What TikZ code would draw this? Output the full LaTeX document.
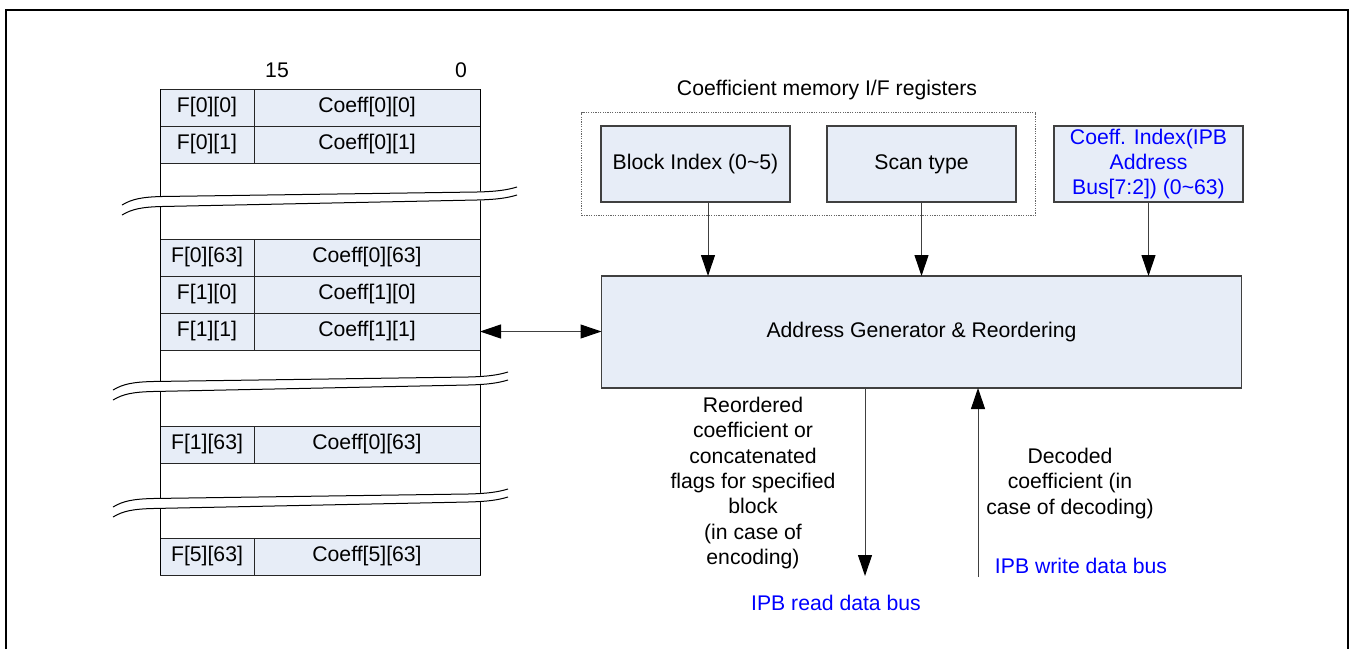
\documentclass[tikz,border=0pt]{standalone}
\usepackage{fontspec}
\setmainfont{Liberation Sans}
\usepackage{tikz}
\usetikzlibrary{arrows.meta,positioning,fit}
\usepackage{xcolor}
\definecolor{mycell}{RGB}{231,237,247}
\definecolor{myline}{RGB}{64,64,64}
\definecolor{mybus}{RGB}{0,0,255}
\tikzset{
  fcell/.style={rectangle,draw=black!85,fill=mycell,line width=0.5pt,outer sep=0pt,
    minimum width=47pt,minimum height=18.5pt,inner sep=0pt},
  ccell/.style={fcell,minimum width=113pt},
  reg/.style={rectangle,draw=myline,line width=0.7pt,fill=mycell,align=center,outer sep=0pt,
    minimum width=94.5pt,minimum height=38pt,inner sep=1pt},
  core/.style={reg,minimum width=320pt,minimum height=56pt},
  grp/.style={rectangle,draw=black!60,dash pattern=on 0.6pt off 0.6pt,inner sep=0pt},
  flow/.style={->,color=black!75,line width=0.5pt},
  biflow/.style={<->,color=black!75,line width=0.5pt},
  buslab/.style={text=mybus,align=center},
  flowlab/.style={align=center},
  brk/.style={black,line width=0.5pt},
}
\newcommand{\brkband}[2]{%
  \begin{scope}[shift={(#1,#2)}]
    \draw[white,line width=4.5pt] (0,5) .. controls (10,-1) and (20,-3) .. (40,-3.5)
      -- (355,-9) .. controls (375,-9.5) and (385,-11) .. (395,-14);
    \draw[brk] (0,0) .. controls (10,-6) and (20,-8) .. (40,-8.5)
      -- (355,-13) .. controls (375,-13.5) and (385,-15) .. (395,-18);
    \draw[brk] (0,10) .. controls (10,4) and (20,2) .. (40,1.5)
      -- (355,-5) .. controls (375,-5.5) and (385,-7) .. (395,-10);
  \end{scope}}

\begin{document}
\begin{tikzpicture}[x=0.5pt,y=-0.5pt,node distance=0pt,
    every node/.style={font=\fontsize{10.6}{12.65}\selectfont},
    >={Triangle[length=10.5pt,width=7pt,color=black]}]
  \useasboundingbox (0,0) rectangle (1349,649);
  \draw[line width=1pt] (6,649) -- (6,10) -- (1348,10) -- (1348,649);

  \node at (277,70) {15};
  \node at (461,70) {0};
  \node[fcell] (f00) at (207,107.5) {F[0][0]};
  \node[ccell,right=of f00] (c00) {Coeff[0][0]};
  \node[fcell,below=of f00] (f01) {F[0][1]};
  \node[ccell,right=of f01] (c01) {Coeff[0][1]};
  \node[fcell,below=38pt of f01] (f063) {F[0][63]};
  \node[ccell,right=of f063] (c063) {Coeff[0][63]};
  \node[fcell,below=of f063] (f10) {F[1][0]};
  \node[ccell,right=of f10] (c10) {Coeff[1][0]};
  \node[fcell,below=of f10] (f11) {F[1][1]};
  \node[ccell,right=of f11] (c11) {Coeff[1][1]};
  \node[fcell,below=38pt of f11] (f163) {F[1][63]};
  \node[ccell,right=of f163] (c163) {Coeff[0][63]};
  \node[fcell,below=37.5pt of f163] (f563) {F[5][63]};
  \node[ccell,right=of f563] (c563) {Coeff[5][63]};
  \draw[brk] (f00.north west) -- (f563.south west);
  \draw[brk] (c00.north east) -- (c563.south east);
  \brkband{122}{205}
  \brkband{113}{390}
  \brkband{113}{507}

  \node[reg] (blk) at (695.5,164) {Block Index (0\textasciitilde5)};
  \node[reg,right=18.5pt of blk] (scan) {Scan type};
  \node[reg,right=19pt of scan,text=mybus] (cidx) {Coeff. Index(IPB\\Address\\Bus[7:2]) (0\textasciitilde63)};
  \node[grp,fit=(blk)(scan),inner xsep=9.75pt,inner ysep=6.75pt] (regs) {};
  \node at (827,90) {Coefficient memory I/F registers};
  \node[core,below=37pt of scan] (agen) {Address Generator \& Reordering};

  \coordinate (bix) at (708,0);
  \coordinate (rdend) at (865,576);
  \coordinate (wrbeg) at (978,577);
  \draw[flow] (blk.south -| bix) -- (agen.north -| bix);
  \draw[flow] (scan.south) -- (scan.south |- agen.north);
  \draw[flow] (cidx.south) -- (cidx.south |- agen.north);
  \draw[biflow] (c11.east) -- (c11.east -| agen.west);
  \draw[flow] (agen.south -| rdend) -- (rdend);
  \draw[flow] (wrbeg) -- (agen.south -| wrbeg);

  \node[flowlab] (rdtxt) at (753,483) {Reordered\\coefficient or\\concatenated\\flags for specified\\block\\(in case of\\encoding)};
  \node[buslab] (rdbus) at (836,603) {IPB read data bus};
  \node[flowlab] (wrtxt) at (1070,483.5) {Decoded\\coefficient (in\\case of decoding)};
  \node[buslab] (wrbus) at (1081,566) {IPB write data bus};
\end{tikzpicture}
\end{document}
